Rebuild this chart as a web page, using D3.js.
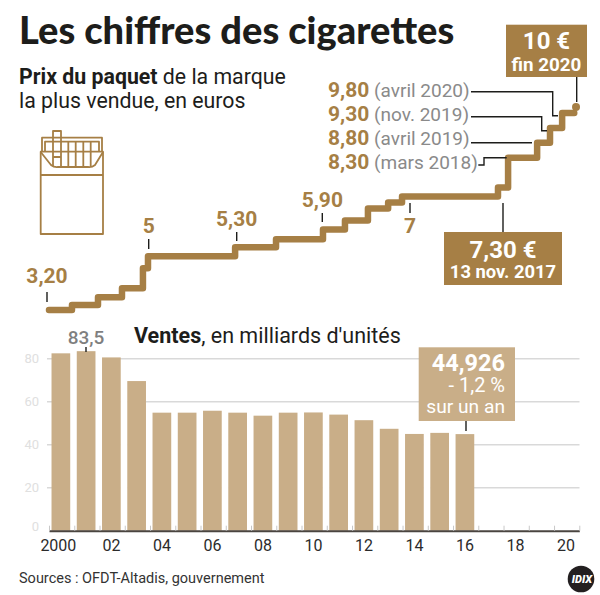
<!DOCTYPE html>
<html>
<head>
<meta charset="utf-8">
<script src="https://cdn.jsdelivr.net/npm/d3@7"></script>
<style>
body { margin: 0; background: #fff; }
text { font-family: Roboto, sans-serif; }
</style>
</head>
<body>
<div id="chart"></div>
<script>
var gold = "#a67f45", tan = "#c9ae88", ink = "#1d1d1b", grey = "#8a8a8a";

// prix du paquet (date en annee decimale, euros)
var prices = [
    {date: 2000.00, v: 3.20}, {date: 2000.91, v: 3.37}, {date: 2001.94, v: 3.63},
    {date: 2002.89, v: 3.93}, {date: 2003.72, v: 4.60}, {date: 2003.92, v: 5.00},
    {date: 2007.37, v: 5.30}, {date: 2008.99, v: 5.57}, {date: 2010.85, v: 5.90},
    {date: 2011.72, v: 6.20}, {date: 2012.63, v: 6.60}, {date: 2013.43, v: 6.80},
    {date: 2013.98, v: 7.00}, {date: 2017.78, v: 7.30}, {date: 2018.18, v: 8.30},
    {date: 2019.33, v: 8.80}, {date: 2019.84, v: 9.30}, {date: 2020.32, v: 9.80},
    {date: 2020.80, v: 9.80}
];
var priceEnd = {date: 2020.87, v: 10};

// ventes, en milliards d'unites
var sales = [
    {year: 2000, v: 82.5}, {year: 2001, v: 83.5}, {year: 2002, v: 80.6}, {year: 2003, v: 69.6},
    {year: 2004, v: 54.9}, {year: 2005, v: 54.9}, {year: 2006, v: 55.8}, {year: 2007, v: 54.9},
    {year: 2008, v: 53.5}, {year: 2009, v: 54.9}, {year: 2010, v: 55.0}, {year: 2011, v: 54.0},
    {year: 2012, v: 51.4}, {year: 2013, v: 47.4}, {year: 2014, v: 45.0}, {year: 2015, v: 45.5},
    {year: 2016, v: 44.926}
];

var svg = d3.select("#chart").append("svg")
    .attr("width", 600)
    .attr("height", 595)
    .style("display", "block");

var x = d3.scaleLinear().domain([2000, 2021]).range([49, 579.3]);
var yPrice = d3.scaleLinear().domain([3.2, 10]).range([310, 107]);
var ySales = d3.scaleLinear().domain([0, 80]).range([530.7, 358.7]);

function label(txt, px, py, size, color, weight, anchor) {
    return svg.append("text")
        .attr("x", px)
        .attr("y", py)
        .attr("text-anchor", anchor || "start")
        .style("font-size", size + "px")
        .style("font-weight", weight || 400)
        .style("fill", color)
        .text(txt);
}

function stem(x1, y1, x2, y2) {
    svg.append("line")
        .attr("x1", x1).attr("y1", y1)
        .attr("x2", x2).attr("y2", y2)
        .attr("stroke", ink)
        .attr("stroke-width", 1.4);
}

// Titre
label("Les chiffres des cigarettes", 19, 44, 38, ink, 900)
    .style("font-family", "Lato, sans-serif");

var sub = label("", 19, 84, 21.3, ink);
sub.append("tspan").style("font-weight", 700).text("Prix du paquet");
sub.append("tspan").text(" de la marque");
label("la plus vendue, en euros", 19, 108, 21.3, ink);

// Paquet de cigarettes
var pack = svg.append("g")
    .attr("fill", "none")
    .attr("stroke", gold)
    .attr("stroke-width", 1.8)
    .attr("stroke-linejoin", "round");
pack.append("rect").attr("x", 40.7).attr("y", 151.7).attr("width", 62.3).attr("height", 82.3);
pack.append("path").attr("d", "M40.7 175H103");
pack.append("path").attr("d", "M42 151V137.7H102V151");
pack.append("path").attr("d", "M45 151V141.7H99V151");
pack.append("path").attr("d", "M40.7 152L51 165Q54 167.5 58 167H88Q92 167.5 95 165L103 152");
pack.append("path").attr("d", "M53 166V131H61V167M53 157H61");
[68.3, 75.7, 83.3, 90.7].forEach(function(px) {
    pack.append("path").attr("d", "M" + px + " 142V167");
});

// Courbe du prix
var priceLine = d3.line()
    .x(function(d) { return x(d.date); })
    .y(function(d) { return yPrice(d.v); })
    .curve(d3.curveStepAfter);

svg.append("path")
    .datum(prices)
    .attr("fill", "none")
    .attr("stroke", gold)
    .attr("stroke-width", 6.5)
    .attr("stroke-linecap", "round")
    .attr("stroke-linejoin", "round")
    .attr("d", priceLine);

svg.append("circle")
    .attr("cx", x(priceEnd.date))
    .attr("cy", yPrice(priceEnd.v))
    .attr("r", 4)
    .attr("fill", gold);

// Etiquettes du prix
var priceLabels = [
    {t: "3,20", x: 47, y: 283, s1: 292, s2: 302},
    {t: "5", x: 148.7, y: 233, s1: 239, s2: 249},
    {t: "5,30", x: 236.7, y: 225.6, s1: 232, s2: 241},
    {t: "5,90", x: 322.3, y: 207, s1: 213, s2: 222},
    {t: "7", x: 410, y: 233, s1: 203, s2: 213}
];
priceLabels.forEach(function(d) {
    label(d.t, d.x, d.y, 21, gold, 700, "middle");
    stem(d.x, d.s1, d.x, d.s2);
});

var steps = [
    {v: "9,80", t: "(avril 2020)", y: 97, leader: [[471, 91.7], [552.7, 91.7], [552.7, 115.7], [558, 115.7]]},
    {v: "9,30", t: "(nov. 2019)", y: 121, leader: [[471, 116.7], [541.7, 116.7], [541.7, 130.7], [547, 130.7]]},
    {v: "8,80", t: "(avril 2019)", y: 145, leader: [[471, 142.7], [532, 142.7]]},
    {v: "8,30", t: "(mars 2018)", y: 168.5, leader: [[478.3, 165], [484, 165], [484, 157.7], [506.7, 157.7]]}
];
steps.forEach(function(d) {
    var t = label("", 328, d.y, 19, grey);
    t.append("tspan").style("font-weight", 700).style("font-size", "21px").style("fill", gold).text(d.v);
    t.append("tspan").text(" " + d.t);
    svg.append("path")
        .attr("d", d3.line()(d.leader))
        .attr("fill", "none")
        .attr("stroke", ink)
        .attr("stroke-width", 1.4);
});

// Encadres du prix
stem(576.7, 77, 576.7, 102);
svg.append("rect").attr("x", 506).attr("y", 24.7).attr("width", 81).attr("height", 52.3).attr("fill", gold);
label("10 €", 546.5, 49, 24, "#fff", 700, "middle");
label("fin 2020", 546.5, 70.7, 18.8, "#fff", 700, "middle");

stem(503, 203, 503, 232);
svg.append("rect").attr("x", 444).attr("y", 232).attr("width", 118).attr("height", 53).attr("fill", gold);
label("7,30 €", 503, 258, 24, "#fff", 700, "middle");
label("13 nov. 2017", 503, 278, 18.4, "#fff", 700, "middle");

// Ventes : grille
var gridVals = [20, 40, 60, 80];
svg.selectAll(".grid")
    .data(gridVals)
    .enter().append("line")
    .attr("class", "grid")
    .attr("x1", 47)
    .attr("x2", 579.5)
    .attr("y1", function(d) { return ySales(d); })
    .attr("y2", function(d) { return ySales(d); })
    .attr("stroke", "#d9d9d9")
    .attr("stroke-width", 1.5);

svg.selectAll(".ylab")
    .data([0, 20, 40, 60, 80])
    .enter().append("text")
    .attr("class", "ylab")
    .attr("x", 39)
    .attr("y", function(d) { return ySales(d) + (d == 0 ? 0 : 4.5); })
    .attr("text-anchor", "end")
    .style("font-size", "13px")
    .style("fill", "#e0e0e0")
    .text(function(d) { return d; });

// la grille ne passe pas entre les barres
var barWidth = 18.7;
function barX(d) { return x(d.year + 0.47) - barWidth / 2; }

svg.selectAll(".gap")
    .data(d3.pairs(sales))
    .enter().append("rect")
    .attr("class", "gap")
    .attr("x", function(d) { return barX(d[0]) + barWidth - 0.5; })
    .attr("width", function(d) { return barX(d[1]) - barX(d[0]) - barWidth + 1; })
    .attr("y", function(d) { return ySales(Math.min(d[0].v, d[1].v)); })
    .attr("height", function(d) { return ySales(0) - ySales(Math.min(d[0].v, d[1].v)); })
    .attr("fill", "#fff");

svg.selectAll(".bar")
    .data(sales)
    .enter().append("rect")
    .attr("class", "bar")
    .attr("x", barX)
    .attr("width", barWidth)
    .attr("y", function(d) { return ySales(d.v); })
    .attr("height", function(d) { return ySales(0) - ySales(d.v); })
    .attr("fill", tan);

// Axe des annees
var years = d3.range(2000, 2022);
var tickAxis = svg.append("g")
    .attr("transform", "translate(0," + ySales(0) + ")")
    .call(d3.axisBottom(x).tickValues(years).tickSizeInner(-5).tickSizeOuter(0).tickFormat(""));
tickAxis.select(".domain").attr("stroke", "#4a4540").attr("stroke-width", 2);
tickAxis.selectAll(".tick line").attr("stroke", "#c8c8c8").attr("stroke-width", 1);

var labelAxis = svg.append("g")
    .attr("transform", "translate(0," + ySales(0) + ")")
    .call(d3.axisBottom(x)
        .tickValues(d3.range(2000, 2021, 2).map(function(y) { return y + 0.45; }))
        .tickSize(0)
        .tickPadding(9)
        .tickFormat(function(d) {
            var year = Math.floor(d);
            return year == 2000 ? "2000" : d3.format("02")(year - 2000);
        }));
labelAxis.select(".domain").remove();
labelAxis.selectAll("text")
    .attr("dx", function(d) { return d < 2001 ? -2.5 : 0; })
    .style("font-family", "Roboto, sans-serif")
    .style("font-size", "16px")
    .style("fill", "#2b2b2b");

// Titre des ventes et etiquettes
var sub2 = label("", 134, 343, 21.5, ink);
sub2.append("tspan").style("font-weight", 700).text("Ventes");
sub2.append("tspan").text(", en milliards d'unités");

label("83,5", 86, 344, 19, "#7f7f7f", 500, "middle");
stem(86, 347, 86, 352);

stem(466, 421, 466, 431);
svg.append("rect").attr("x", 418.7).attr("y", 347.3).attr("width", 96.3).attr("height", 73.7).attr("fill", tan);
label("44,926", 505, 371, 23.5, "#fff", 700, "end");
label("- 1,2 %", 505, 392, 20, "#fff", 400, "end");
label("sur un an", 505, 413, 19.2, "#fff", 400, "end");

label("Sources : OFDT-Altadis, gouvernement", 19, 582.7, 14.5, "#333");

// Logo
svg.append("circle").attr("cx", 581).attr("cy", 579).attr("r", 13.3).attr("fill", "#231f20");
label("IDIX", 582, 583, 11, "#fff", 900, "middle").style("font-style", "italic");
</script>
</body>
</html>
